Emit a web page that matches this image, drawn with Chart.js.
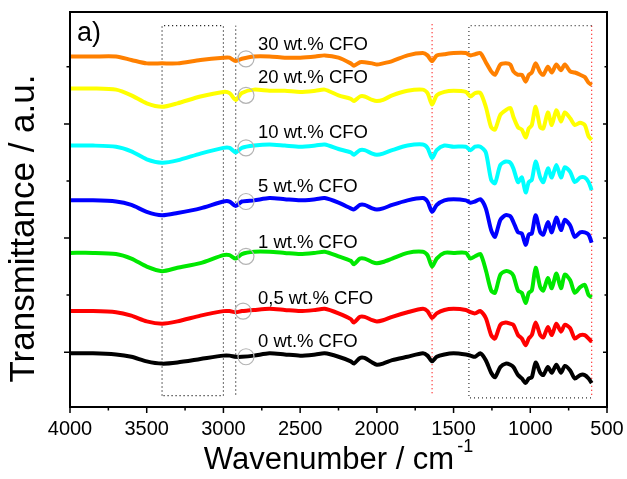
<!DOCTYPE html>
<html>
<head>
<meta charset="utf-8">
<script src="https://cdn.jsdelivr.net/npm/chart.js@4.4.1/dist/chart.umd.min.js"></script>
<style>
  html, body { margin: 0; padding: 0; background: #fff; }
</style>
</head>
<body>
<canvas id="ftir" width="627" height="479"></canvas>
<script>
// wavenumber grid (cm-1)
const wavenumbers = [4000, 3850, 3700, 3600, 3500, 3400, 3300, 3150, 3000, 2960,
  2920, 2880, 2800, 2700, 2600, 2500, 2400, 2340, 2250, 2170,
  2150, 2110, 2080, 2030, 2000, 1960, 1900, 1800, 1700, 1670,
  1640, 1610, 1560, 1500, 1420, 1390, 1360, 1325, 1290, 1255,
  1230, 1195, 1160, 1130, 1110, 1080, 1055, 1030, 1010, 990,
  965, 935, 915, 885, 860, 830, 800, 775, 740, 710,
  675, 645, 620, 600];

// transmittance (a.u., stacked)
const cfo0 = [-1, -1, -2, -4, -8, -10, -9, -6, -3, -3,
  -4, -4, -3, -1, -2, -3, -2, -1, -4, -8,
  -10, -5, -5, -9, -11, -10, -7, -4, -1, -3,
  -8, -4, -2, -1, -2, -3, -4, -1, -7, -18,
  -22, -13, -10, -11, -13, -20, -23, -27, -23, -22,
  -9, -18, -20, -13, -18, -11, -18, -12, -16, -23,
  -20, -20, -23, -27];
const cfo05 = [36, 36, 35, 32, 27, 25, 27, 32, 36, 36,
  35, 36, 37, 38, 37, 36, 37, 38, 34, 29,
  26, 31, 31, 28, 27, 28, 31, 35, 38, 36,
  30, 34, 37, 38, 37, 35, 34, 36, 30, 15,
  12, 24, 26, 25, 24, 15, 12, 6, 12, 15,
  26, 15, 13, 22, 15, 25, 18, 24, 21, 12,
  15, 15, 12, 9];
const cfo1 = [87, 87, 86, 82, 75, 71, 74, 78, 85, 85,
  82, 86, 88, 88, 87, 86, 87, 88, 84, 80,
  77, 82, 82, 79, 78, 79, 82, 87, 88, 85,
  75, 82, 87, 87, 87, 82, 84, 86, 72, 54,
  52, 68, 71, 70, 67, 54, 52, 43, 52, 54,
  74, 57, 54, 65, 56, 69, 56, 68, 63, 52,
  57, 59, 50, 48];
const cfo5 = [133, 133, 132, 129, 123, 120, 122, 126, 132, 132,
  128, 132, 133, 135, 134, 133, 134, 135, 131, 126,
  125, 129, 129, 126, 125, 126, 129, 133, 135, 132,
  123, 129, 133, 134, 133, 131, 132, 134, 126, 107,
  101, 116, 120, 119, 114, 105, 104, 94, 103, 104,
  120, 105, 103, 114, 105, 118, 107, 116, 111, 101,
  105, 105, 103, 96];
const cfo10 = [181, 181, 180, 176, 169, 166, 168, 174, 179, 179,
  175, 179, 181, 182, 181, 180, 181, 182, 178, 175,
  173, 177, 177, 174, 173, 174, 177, 181, 182, 179,
  170, 177, 181, 180, 180, 177, 180, 180, 175, 151,
  148, 164, 167, 166, 161, 149, 153, 140, 149, 151,
  167, 153, 149, 161, 153, 164, 153, 162, 158, 149,
  153, 153, 149, 142];
const cfo20 = [231, 231, 230, 225, 218, 215, 218, 224, 228, 227,
  221, 227, 230, 229, 229, 228, 229, 230, 225, 222,
  220, 224, 224, 221, 220, 221, 225, 229, 230, 227,
  217, 225, 228, 229, 228, 224, 227, 227, 215, 197,
  195, 208, 212, 214, 206, 197, 195, 188, 196, 199,
  215, 197, 196, 210, 199, 212, 202, 210, 205, 199,
  201, 199, 189, 186];
const cfo30 = [259, 259, 259, 256, 253, 253, 253, 256, 258, 258,
  255, 257, 259, 259, 258, 258, 259, 260, 258, 253,
  251, 254, 254, 253, 252, 253, 255, 260, 262, 260,
  255, 260, 261, 262, 262, 260, 261, 262, 254, 246,
  243, 252, 253, 252, 246, 243, 243, 237, 243, 245,
  253, 245, 243, 250, 245, 252, 247, 252, 246, 245,
  243, 241, 236, 234];

const seriesValues = [cfo0, cfo05, cfo1, cfo5, cfo10, cfo20, cfo30];
const seriesLabels = ['0 wt.% CFO', '0,5 wt.% CFO', '1 wt.% CFO', '5 wt.% CFO',
  '10 wt.% CFO', '20 wt.% CFO', '30 wt.% CFO'];
const seriesColors = ['#000000', '#ff0000', '#00e800', '#0000ff', '#00ffff', '#ffff00', '#ff8000'];
const labelWn = 2775;
const labelY = [9, 47, 96, 145, 192, 240, 269];
const circleWn = [2853, 2872, 2853, 2853, 2853, 2853, 2853];
const circleY = [-4, 36, 84, 132, 179, 225, 257];

const xTicks = [4000, 3500, 3000, 2500, 2000, 1500, 1000, 500];
const yMajor = [0, 100, 200];
const yMinor = [50, 150, 250];

// marked regions
const boxOH = [3400, 3000];
const lineCH = 2920;
const lineCO = 1640;
const boxFP = [1400, 600];
const markTop = 286;
const markBottom = -38;

const FONT = "'Liberation Sans', Arial, sans-serif";

const datasets = [];

seriesValues.forEach((vals, i) => {
    datasets.push({
        label: seriesLabels[i],
        data: wavenumbers.map((w, k) => ({ x: w, y: vals[k] })),
        borderColor: seriesColors[i],
        borderWidth: 4,
        pointRadius: 0,
        tension: 0.25,
        fill: false,
        order: 1
    });
});

datasets.push({
    label: 'circles',
    type: 'scatter',
    data: circleWn.map((w, i) => ({ x: w, y: circleY[i] })),
    pointRadius: 8,
    pointStyle: 'circle',
    backgroundColor: 'rgba(0,0,0,0)',
    borderColor: '#b4b4b4',
    borderWidth: 1.2,
    order: 0
});

const dotted = (pts, color) => ({
    label: 'mark',
    data: pts,
    borderColor: color,
    borderWidth: 1.2,
    borderDash: [1, 3],
    pointRadius: 0,
    tension: 0,
    fill: false,
    order: 5
});

datasets.push(dotted([
    { x: boxOH[0], y: markBottom }, { x: boxOH[0], y: markTop },
    { x: boxOH[1], y: markTop }, { x: boxOH[1], y: markBottom },
    { x: boxOH[0], y: markBottom }
], '#000000'));
datasets.push(dotted([{ x: lineCH, y: markBottom + 1 }, { x: lineCH, y: markTop }], '#000000'));
datasets.push(dotted([{ x: lineCO, y: markBottom + 2 }, { x: lineCO, y: markTop + 3 }], '#ff0000'));
datasets.push(dotted([
    { x: boxFP[1], y: markTop }, { x: boxFP[0], y: markTop },
    { x: boxFP[0], y: markBottom - 2 }, { x: boxFP[1], y: markBottom - 2 }
], '#333333'));
datasets.push(dotted([{ x: boxFP[1], y: markTop }, { x: boxFP[1], y: markBottom - 2 }], '#ff0000'));

const framePlugin = {
    id: 'frame',
    afterDatasetsDraw(chart) {
        const { ctx, chartArea: a, scales: { x, y } } = chart;
        ctx.save();
        // labels next to the curves
        ctx.font = '18.5px ' + FONT;
        ctx.fillStyle = '#000';
        ctx.textAlign = 'left';
        ctx.textBaseline = 'middle';
        seriesLabels.forEach((t, i) => {
            ctx.fillText(t, x.getPixelForValue(labelWn), y.getPixelForValue(labelY[i]));
        });
        ctx.font = '27px ' + FONT;
        ctx.textBaseline = 'alphabetic';
        ctx.fillText('a)', a.left + 7, a.top + 29);
        ctx.restore();
    },
    afterDraw(chart) {
        const { ctx, chartArea: a, scales: { x, y } } = chart;
        ctx.save();
        ctx.strokeStyle = '#000';
        ctx.lineWidth = 2;
        ctx.strokeRect(a.left, a.top, a.right - a.left, a.bottom - a.top);

        ctx.lineWidth = 1.5;
        ctx.beginPath();
        for (let w = 500; w <= 4000; w += 250) {
            const px = x.getPixelForValue(w);
            const len = w % 500 === 0 ? 6 : 3.5;
            ctx.moveTo(px, a.bottom);
            ctx.lineTo(px, a.bottom + len);
        }
        yMajor.forEach(v => {
            const py = y.getPixelForValue(v);
            ctx.moveTo(a.left - 6, py);
            ctx.lineTo(a.left, py);
            ctx.moveTo(a.right, py);
            ctx.lineTo(a.right - 4, py);
        });
        yMinor.forEach(v => {
            const py = y.getPixelForValue(v);
            ctx.moveTo(a.left - 3.5, py);
            ctx.lineTo(a.left, py);
            ctx.moveTo(a.right, py);
            ctx.lineTo(a.right - 2.5, py);
        });
        ctx.stroke();

        // axis titles
        ctx.fillStyle = '#000';
        ctx.textBaseline = 'alphabetic';
        ctx.font = '31px ' + FONT;
        const main = 'Wavenumber / cm';
        const mw = ctx.measureText(main).width;
        ctx.font = '18px ' + FONT;
        const sup = '-1';
        const sw = ctx.measureText(sup).width;
        const cx = (a.left + a.right) / 2;
        const start = cx - (mw + sw + 3) / 2;
        ctx.font = '31px ' + FONT;
        ctx.textAlign = 'left';
        ctx.fillText(main, start, 469);
        ctx.font = '18px ' + FONT;
        ctx.fillText(sup, start + mw + 3, 452);

        ctx.save();
        ctx.translate(34, (a.top + a.bottom) / 2 + 19);
        ctx.rotate(-Math.PI / 2);
        ctx.font = '35px ' + FONT;
        ctx.textAlign = 'center';
        ctx.fillText('Transmittance / a.u.', 0, 0);
        ctx.restore();
        ctx.restore();
    }
};

new Chart(document.getElementById('ftir'), {
    type: 'line',
    data: { datasets },
    options: {
        responsive: false,
        animation: false,
        layout: { padding: { top: 12, right: 20, left: 0, bottom: 0 } },
        plugins: {
            legend: { display: false },
            tooltip: { enabled: false }
        },
        scales: {
            x: {
                type: 'linear',
                reverse: true,
                min: 500,
                max: 4000,
                afterBuildTicks: scale => {
                    scale.ticks = xTicks.map(v => ({ value: v }));
                },
                afterFit: scale => {
                    scale.height = 72;
                    scale.paddingLeft = 0;
                    scale.paddingRight = 0;
                },
                ticks: {
                    autoSkip: false,
                    maxRotation: 0,
                    padding: 10,
                    color: '#000',
                    font: { family: FONT, size: 20 },
                    callback: v => String(v)
                },
                grid: { display: false, drawTicks: false },
                border: { display: false }
            },
            y: {
                min: -48,
                max: 298,
                afterFit: scale => { scale.width = 70; },
                ticks: { display: false },
                grid: { display: false, drawTicks: false },
                border: { display: false }
            }
        }
    },
    plugins: [framePlugin]
});
</script>
</body>
</html>
